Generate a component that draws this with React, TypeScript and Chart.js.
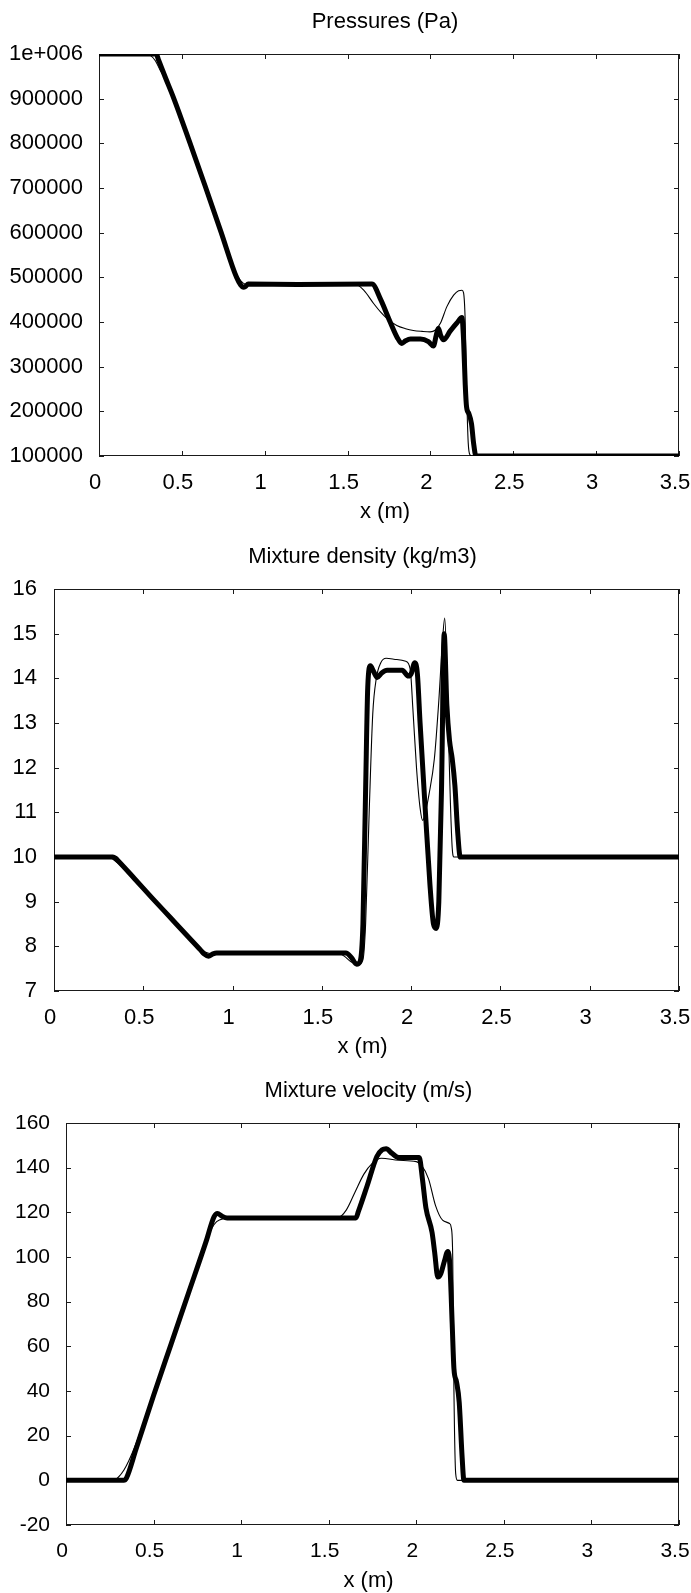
import React, { useEffect, useRef } from 'react';
import { Chart, registerables } from 'chart.js';

Chart.register(...registerables);

// ---------- tick values & labels ----------
const xTickValues = [0, 0.5, 1, 1.5, 2, 2.5, 3, 3.5];
const xTickLabels = ['0', '0.5', '1', '1.5', '2', '2.5', '3', '3.5'];

const pressureTickValues = [100000, 200000, 300000, 400000, 500000, 600000, 700000, 800000, 900000, 1000000];
const pressureTickLabels = ['100000', '200000', '300000', '400000', '500000', '600000', '700000', '800000', '900000', '1e+006'];

const densityTickValues = [7, 8, 9, 10, 11, 12, 13, 14, 15, 16];
const densityTickLabels = ['7', '8', '9', '10', '11', '12', '13', '14', '15', '16'];

const velocityTickValues = [-20, 0, 20, 40, 60, 80, 100, 120, 140, 160];
const velocityTickLabels = ['-20', '0', '20', '40', '60', '80', '100', '120', '140', '160'];

// ---------- Pressure (Pa) ----------
const pressureThickX = [0, 0.345, 0.36, 0.4, 0.45, 0.545, 0.64, 0.735, 0.83, 0.855, 0.87, 0.885, 0.9, 1.2, 1.647, 1.7, 1.757, 1.8, 1.827, 1.85, 1.88, 1.94, 1.988, 2.018, 2.035, 2.048, 2.062, 2.078, 2.12, 2.16, 2.19, 2.2, 2.21, 2.218, 2.232, 2.248, 2.26, 2.275, 3.5];
const pressureThickY = [1000000, 1000000, 986000, 948000, 902000, 805000, 705000, 603000, 500000, 483000, 478000, 480000, 485000, 484000, 485000, 450000, 400000, 365000, 352000, 358000, 362000, 362000, 356000, 346000, 370000, 386000, 370000, 360000, 380000, 398000, 410000, 360000, 260000, 210000, 195000, 172000, 130000, 100000, 100000];

const pressureThinX = [0, 0.28, 0.31, 0.34, 0.37, 0.4, 0.45, 0.545, 0.64, 0.735, 0.8, 0.84, 0.87, 0.9, 1.0, 1.55, 1.6, 1.656, 1.7, 1.74, 1.797, 1.85, 1.897, 1.95, 1.998, 2.03, 2.06, 2.1, 2.14, 2.17, 2.19, 2.2, 2.21, 2.218, 2.228, 2.24, 2.25, 3.5];
const pressureThinY = [1000000, 1000000, 997000, 985000, 963000, 944000, 901000, 805000, 705000, 603000, 535000, 500000, 487000, 484000, 484000, 484000, 470000, 442000, 422000, 407000, 392000, 385000, 381000, 379000, 378000, 382000, 397000, 435000, 460000, 470000, 471000, 465000, 400000, 250000, 130000, 102000, 100000, 100000];

// ---------- Mixture density (kg/m3) ----------
const densityThickX = [0, 0.33, 0.345, 0.36, 0.45, 0.55, 0.65, 0.75, 0.82, 0.84, 0.865, 0.89, 0.91, 1.3, 1.635, 1.665, 1.695, 1.713, 1.73, 1.745, 1.757, 1.772, 1.79, 1.81, 1.835, 1.865, 1.95, 1.985, 2.0, 2.02, 2.035, 2.05, 2.08, 2.105, 2.125, 2.14, 2.155, 2.17, 2.185, 2.2, 2.215, 2.23, 2.245, 2.26, 2.275, 3.5];
const densityThickY = [10, 10, 9.97, 9.91, 9.52, 9.08, 8.65, 8.22, 7.92, 7.83, 7.78, 7.83, 7.85, 7.85, 7.85, 7.75, 7.6, 7.65, 8.5, 11.5, 13.8, 14.28, 14.15, 14.02, 14.12, 14.18, 14.18, 14.05, 14.1, 14.35, 14.1, 13.0, 11.0, 9.4, 8.5, 8.4, 9.0, 11.5, 15.0, 13.4, 12.6, 12.2, 11.6, 10.6, 10.0, 10];

const densityThinX = [0, 0.3, 0.33, 0.37, 0.45, 0.55, 0.65, 0.75, 0.82, 0.85, 0.88, 0.95, 1.59, 1.625, 1.665, 1.705, 1.73, 1.745, 1.765, 1.785, 1.805, 1.83, 1.86, 1.92, 1.97, 1.995, 2.01, 2.03, 2.05, 2.065, 2.08, 2.1, 2.13, 2.155, 2.175, 2.188, 2.2, 2.21, 2.22, 2.23, 2.24, 3.5];
const densityThinY = [10, 10, 9.95, 9.82, 9.53, 9.08, 8.65, 8.22, 7.94, 7.87, 7.84, 7.85, 7.85, 7.78, 7.65, 7.6, 7.7, 8.5, 11.0, 13.2, 14.0, 14.35, 14.45, 14.42, 14.38, 14.2, 13.3, 12.0, 11.1, 10.82, 11.0, 11.4, 12.2, 13.5, 14.8, 15.35, 14.2, 12.6, 11.2, 10.2, 10.0, 10];

// ---------- Mixture velocity (m/s) ----------
const velocityThickX = [0, 0.33, 0.345, 0.4, 0.5, 0.6, 0.7, 0.8, 0.845, 0.865, 0.89, 0.92, 1.3, 1.655, 1.67, 1.72, 1.775, 1.805, 1.828, 1.86, 1.9, 2.017, 2.035, 2.055, 2.09, 2.105, 2.123, 2.14, 2.16, 2.18, 2.192, 2.205, 2.215, 2.23, 2.245, 2.262, 2.272, 3.5];
const velocityThickY = [0, 0, 1, 14, 38, 61, 84, 107, 118, 119.5, 118.3, 117.5, 117.5, 117.5, 120.5, 132, 145, 148, 148.5, 146.5, 144.5, 144.5, 135, 122, 111, 102, 91, 92.5, 98, 102.5, 96, 70, 50, 44, 35, 10, 0, 0];

const velocityThinX = [0, 0.27, 0.3, 0.33, 0.36, 0.4, 0.5, 0.6, 0.7, 0.78, 0.83, 0.86, 0.9, 0.95, 1.55, 1.6, 1.65, 1.7, 1.75, 1.8, 1.9, 2.0, 2.03, 2.07, 2.11, 2.15, 2.19, 2.2, 2.208, 2.215, 2.225, 2.235, 3.5];
const velocityThinY = [0, 0, 1.5, 4.5, 9, 16.5, 38, 61, 84, 102.5, 112.5, 115.8, 117.2, 117.5, 117.5, 121, 129, 137, 142, 144.2, 143.3, 142.7, 141, 135, 123, 116.5, 115, 113, 100, 40, 3, 0, 0];

// ---------- layout ----------
const PAGE_W = 691;
const FONT = "'Liberation Sans', Arial, Helvetica, sans-serif";

const toPoints = (xs: number[], ys: number[]) => xs.map((x, i) => ({ x, y: ys[i] }));

const framePlugin = {
  id: 'frame',
  beforeDatasetsDraw(chart: any) {
    const { ctx, chartArea } = chart;
    const { left, right, top, bottom } = chartArea;
    ctx.save();
    ctx.strokeStyle = '#1a1a1a';
    ctx.lineWidth = 1;
    ctx.strokeRect(left + 0.5, top + 0.5, right - left - 1, bottom - top - 1);
    const tl = 5;
    ctx.beginPath();
    for (const t of chart.scales.x.ticks) {
      const px = Math.round(chart.scales.x.getPixelForValue(t.value)) + 0.5;
      ctx.moveTo(px, bottom);
      ctx.lineTo(px, bottom - tl);
      ctx.moveTo(px, top);
      ctx.lineTo(px, top + tl);
    }
    for (const t of chart.scales.y.ticks) {
      const py = Math.round(chart.scales.y.getPixelForValue(t.value)) + 0.5;
      ctx.moveTo(left, py);
      ctx.lineTo(left + tl, py);
      ctx.moveTo(right, py);
      ctx.lineTo(right - tl, py);
    }
    ctx.stroke();
    ctx.restore();
  },
  afterDraw(chart: any, _args: any, opts: any) {
    const { ctx, chartArea } = chart;
    const cx = (chartArea.left + chartArea.right) / 2 - 4;
    ctx.save();
    ctx.fillStyle = '#000';
    ctx.font = `${opts.titleSize}px ${FONT}`;
    ctx.textAlign = 'center';
    ctx.textBaseline = 'middle';
    ctx.fillText(opts.title, cx, chartArea.top - opts.titleGap);
    ctx.fillText(opts.xTitle, cx, chartArea.bottom + opts.xTitleGap);
    ctx.restore();
  },
};

type Spec = {
  title: string;
  top: number;
  height: number;
  plot: { left: number; right: number; top: number; bottom: number };
  yMin: number;
  yMax: number;
  yTickValues: number[];
  yTickLabels: string[];
  thin: { x: number; y: number }[];
  thick: { x: number; y: number }[];
  tickSize: number;
  yPad: number;
};

function buildConfig(spec: Spec): any {
  return {
    type: 'line',
    data: {
      datasets: [
        {
          data: spec.thick,
          borderColor: '#000',
          borderWidth: 5,
          pointRadius: 0,
          fill: false,
          cubicInterpolationMode: 'monotone',
          borderJoinStyle: 'round',
          borderCapStyle: 'round',
        },
        {
          data: spec.thin,
          borderColor: '#000',
          borderWidth: 1.1,
          pointRadius: 0,
          fill: false,
          cubicInterpolationMode: 'monotone',
        },
      ],
    },
    options: {
      responsive: false,
      animation: false,
      events: [],
      layout: { padding: { top: spec.plot.top, right: PAGE_W - spec.plot.right, bottom: 0, left: 0 } },
      plugins: {
        legend: { display: false },
        title: { display: false },
        tooltip: { enabled: false },
        frame: { title: spec.title, xTitle: 'x (m)', titleSize: 22, titleGap: 32, xTitleGap: 56 },
      },
      scales: {
        x: {
          type: 'linear',
          min: 0,
          max: 3.5,
          afterBuildTicks: (s: any) => {
            s.ticks = xTickValues.map((v) => ({ value: v }));
          },
          afterFit: (s: any) => {
            s.height = spec.height - spec.plot.bottom;
            s.paddingLeft = 0;
            s.paddingRight = 0;
          },
          grid: { display: false, drawTicks: false },
          border: { display: false },
          ticks: {
            autoSkip: false,
            maxRotation: 0,
            minRotation: 0,
            padding: 14,
            labelOffset: -4,
            color: '#000',
            font: { family: FONT, size: spec.tickSize },
            callback: (v: number) => xTickLabels[xTickValues.indexOf(v)] ?? '',
          },
        },
        y: {
          type: 'linear',
          min: spec.yMin,
          max: spec.yMax,
          afterBuildTicks: (s: any) => {
            s.ticks = spec.yTickValues.map((v) => ({ value: v }));
          },
          afterFit: (s: any) => {
            s.width = spec.plot.left;
            s.paddingTop = 0;
            s.paddingBottom = 0;
          },
          grid: { display: false, drawTicks: false },
          border: { display: false },
          ticks: {
            autoSkip: false,
            padding: spec.yPad,
            color: '#000',
            font: { family: FONT, size: spec.tickSize },
            callback: (v: number) => spec.yTickLabels[spec.yTickValues.indexOf(v)] ?? '',
          },
        },
      },
    },
    plugins: [framePlugin],
  };
}

function Panel({ spec }: { spec: Spec }) {
  const ref = useRef<HTMLCanvasElement>(null);
  useEffect(() => {
    const chart = new Chart(ref.current as HTMLCanvasElement, buildConfig(spec));
    return () => chart.destroy();
  }, []);
  return (
    <canvas
      ref={ref}
      width={PAGE_W}
      height={spec.height}
      style={{ position: 'absolute', left: 0, top: spec.top, width: PAGE_W, height: spec.height, display: 'block' }}
    />
  );
}

const specs: Spec[] = [
  {
    title: 'Pressures (Pa)',
    top: 0,
    height: 530,
    plot: { left: 99, right: 679, top: 54, bottom: 456 },
    yMin: 100000,
    yMax: 1000000,
    yTickValues: pressureTickValues,
    yTickLabels: pressureTickLabels,
    thin: toPoints(pressureThinX, pressureThinY),
    thick: toPoints(pressureThickX, pressureThickY),
    tickSize: 22,
    yPad: 16,
  },
  {
    title: 'Mixture density (kg/m3)',
    top: 530,
    height: 530,
    plot: { left: 54, right: 679, top: 59, bottom: 461 },
    yMin: 7,
    yMax: 16,
    yTickValues: densityTickValues,
    yTickLabels: densityTickLabels,
    thin: toPoints(densityThinX, densityThinY),
    thick: toPoints(densityThickX, densityThickY),
    tickSize: 22,
    yPad: 17,
  },
  {
    title: 'Mixture velocity (m/s)',
    top: 1060,
    height: 533,
    plot: { left: 66, right: 679, top: 63, bottom: 465 },
    yMin: -20,
    yMax: 160,
    yTickValues: velocityTickValues,
    yTickLabels: velocityTickLabels,
    thin: toPoints(velocityThinX, velocityThinY),
    thick: toPoints(velocityThickX, velocityThickY),
    tickSize: 21,
    yPad: 16,
  },
];

export default function App() {
  return (
    <div style={{ position: 'absolute', left: 0, top: 0, width: PAGE_W, height: 1593, background: '#fff', overflow: 'hidden' }}>
      {specs.map((s, i) => (
        <Panel key={i} spec={s} />
      ))}
    </div>
  );
}
